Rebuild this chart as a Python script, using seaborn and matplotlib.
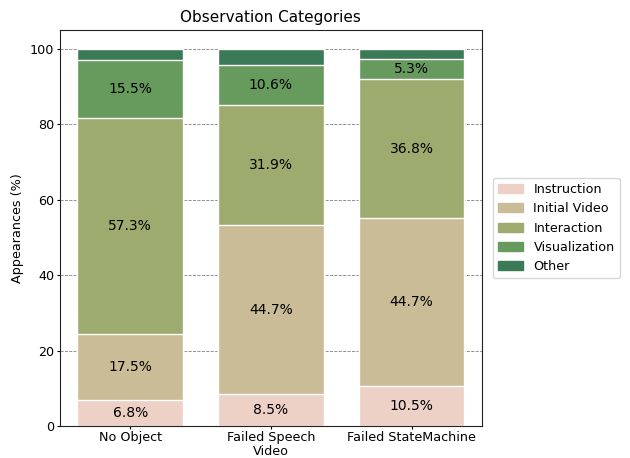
import matplotlib
matplotlib.use("Agg")
import matplotlib.pyplot as plt
import matplotlib.patches as mpatches
import numpy as np
import seaborn as sns

groups = ["No Object", "Failed Speech\nVideo", "Failed StateMachine"]
categories = ["Instruction", "Initial Video", "Interaction", "Visualization", "Other"]
instruction = [6.8, 8.5, 10.5]
initial_video = [17.5, 44.7, 44.7]
interaction = [57.3, 31.9, 36.8]
visualization = [15.5, 10.6, 5.3]
other = [2.9, 4.3, 2.7]
colors = ["#edd0c6", "#c9bc96", "#9dab6f", "#679a5d", "#3b7a57"]

series = np.array([instruction, initial_video, interaction, visualization, other])
cum = series.cumsum(axis=0)

sns.set_style("white")
plt.rcParams.update({"text.color": "black", "axes.labelcolor": "black",
                     "xtick.color": "black", "ytick.color": "black"})
fig = plt.figure(figsize=(6.3, 4.58), dpi=100)
ax = fig.add_axes([0.095, 0.07, 0.67, 0.864])
ax.set_axisbelow(True)
ax.yaxis.grid(True, linestyle="--", color="gray", linewidth=0.6)

# draw cumulative totals from the top down so each layer shows its own segment
for i in range(len(categories) - 1, -1, -1):
    sns.barplot(x=groups, y=cum[i], color=colors[i], saturation=1, width=0.75,
                edgecolor="white", linewidth=1, ax=ax)

for i in range(len(categories) - 1):
    for j in range(len(groups)):
        mid = cum[i, j] - series[i, j] / 2
        ax.text(j, mid, f"{series[i, j]:.1f}%", ha="center", va="center", fontsize=10)

for s in ax.spines.values():
    s.set_visible(True)
    s.set_color("#222222")
    s.set_linewidth(0.8)

ax.set_ylim(0, 105)
ax.set_xlim(-0.5, 2.5)
ax.set_yticks([0, 20, 40, 60, 80, 100])
ax.tick_params(axis="both", labelsize=9.2, length=2, left=True, bottom=True, pad=2)
for lbl in ax.get_xticklabels():
    lbl.set_linespacing(1.05)
ax.set_ylabel("Appearances (%)", fontsize=9.2)
ax.set_xlabel("")
ax.set_title("Observation Categories", fontsize=11)

handles = [mpatches.Patch(color=c, label=n) for n, c in zip(categories, colors)]
ax.legend(handles=handles, loc="center left", bbox_to_anchor=(1.01, 0.5), fontsize=9.2)

fig.savefig("out.png", dpi=100)
